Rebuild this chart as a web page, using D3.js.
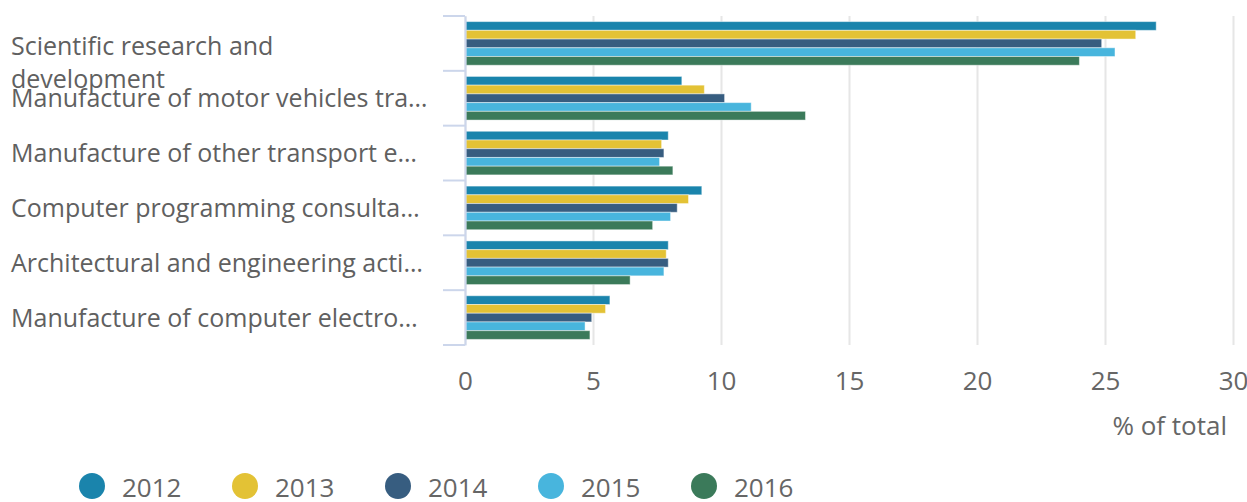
<!DOCTYPE html>
<html>
<head>
<meta charset="utf-8">
<script src="https://cdn.jsdelivr.net/npm/d3@7"></script>
<style>
  body { margin: 0; background: #fff; }
  svg { display: block; font-family: 'Open Sans', sans-serif; }
</style>
</head>
<body>
<div id="chart"></div>
<script>
// data
const categories = [
  'Scientific research and development',
  'Manufacture of motor vehicles tra…',
  'Manufacture of other transport e…',
  'Computer programming consulta…',
  'Architectural and engineering acti…',
  'Manufacture of computer electro…',
];
const years = ['2012', '2013', '2014', '2015', '2016'];
const values2012 = [27.0, 8.47, 7.94, 9.25, 7.94, 5.66];
const values2013 = [26.2, 9.35, 7.68, 8.73, 7.86, 5.49];
const values2014 = [24.87, 10.14, 7.77, 8.29, 7.94, 4.95];
const values2015 = [25.39, 11.18, 7.6, 8.03, 7.77, 4.69];
const values2016 = [24.0, 13.3, 8.12, 7.33, 6.45, 4.88];
const xTicks = [0, 5, 10, 15, 20, 25, 30];
const colors = ['#1a84ac', '#e3c235', '#375d80', '#48b5dd', '#3b7a5a'];

const series = [values2012, values2013, values2014, values2015, values2016];

const dimensions = {
  width: 1247,
  height: 502,
  margin: { top: 16, left: 465, right: 14, bottom: 157 },
};
dimensions.ctrWidth = dimensions.width - dimensions.margin.left - dimensions.margin.right;
dimensions.ctrHeight = dimensions.height - dimensions.margin.top - dimensions.margin.bottom;

const svg = d3.select('#chart')
  .append('svg')
  .attr('width', dimensions.width)
  .attr('height', dimensions.height);

const ctr = svg.append('g')
  .attr('transform', `translate(${dimensions.margin.left}, ${dimensions.margin.top})`);

// scales
const xScale = d3.scaleLinear().domain([0, 30]).range([0, dimensions.ctrWidth]);
const yScale = d3.scaleBand().domain(categories).range([0, dimensions.ctrHeight]).padding(0);
const yInner = d3.scaleBand().domain(years)
  .range([5.6, yScale.bandwidth() - 5.6]).padding(0);
const color = d3.scaleOrdinal().domain(years).range(colors);

// x axis with gridlines
const xAxis = d3.axisBottom(xScale)
  .tickValues(xTicks)
  .tickSize(-dimensions.ctrHeight)
  .tickFormat(d3.format('d'));

const xAxisGroup = ctr.append('g')
  .attr('transform', `translate(0, ${dimensions.ctrHeight})`)
  .call(xAxis)
  .attr('font-family', "'Open Sans', sans-serif")
  .attr('font-size', 26);
xAxisGroup.select('.domain').remove();
xAxisGroup.selectAll('.tick line').attr('stroke', '#e6e6e6').attr('stroke-width', 2);
xAxisGroup.selectAll('.tick text')
  .attr('y', 45).attr('dy', 0)
  .attr('fill', '#666');

xAxisGroup.append('text')
  .attr('x', xScale(30) - 6)
  .attr('y', 90)
  .attr('fill', '#666')
  .attr('text-anchor', 'end')
  .text('% of total');

// bars
const groups = ctr.selectAll('g.cat')
  .data(categories)
  .join('g')
  .attr('class', 'cat')
  .attr('transform', (d) => `translate(0, ${yScale(d)})`);

groups.selectAll('rect')
  .data((d, i) => years.map((y, j) => ({ year: y, value: series[j][i] })))
  .join('rect')
  .attr('x', xScale(0) + 1)
  .attr('y', (d) => yInner(d.year))
  .attr('width', (d) => xScale(d.value) - xScale(0) - 1)
  .attr('height', yInner.bandwidth())
  .attr('fill', (d) => color(d.year))
  .attr('stroke', 'rgba(255,255,255,0.45)')
  .attr('stroke-width', 1);

// y axis: line plus ticks on category boundaries
const yAxisGroup = ctr.append('g')
  .call(d3.axisLeft(yScale).tickSize(0).tickFormat(''));
yAxisGroup.select('.domain')
  .attr('stroke', '#ccd6eb').attr('stroke-width', 2);

const bounds = categories.map((c) => yScale(c)).concat([yScale.range()[1]]);
yAxisGroup.selectAll('line.bound')
  .data(bounds)
  .join('line')
  .attr('class', 'bound')
  .attr('x1', -22).attr('x2', 0)
  .attr('y1', (d) => d).attr('y2', (d) => d)
  .attr('stroke', '#ccd6eb').attr('stroke-width', 2);

// category labels
const labels = svg.append('g')
  .style('font-size', '25px')
  .attr('fill', '#606060');

categories.forEach((c, i) => {
  const cy = dimensions.margin.top + yScale(c) + yScale.bandwidth() / 2;
  const t = labels.append('text').attr('x', 11);
  if (i === 0) {
    t.append('tspan').attr('x', 11).attr('y', cy + 12).text('Scientific research and');
    t.append('tspan').attr('x', 11).attr('y', cy + 45).text('development');
  } else {
    t.attr('y', cy + 9).text(c);
  }
});

// legend
const legend = svg.append('g')
  .attr('transform', 'translate(92, 486)');

const items = legend.selectAll('g')
  .data(years)
  .join('g')
  .attr('transform', (d, i) => `translate(${i * 153}, 0)`);

items.append('circle')
  .attr('r', 13)
  .attr('fill', (d) => color(d));

items.append('text')
  .attr('x', 30)
  .attr('y', 11)
  .attr('fill', '#666')
  .style('font-size', '26px')
  .text((d) => d);
</script>
</body>
</html>
